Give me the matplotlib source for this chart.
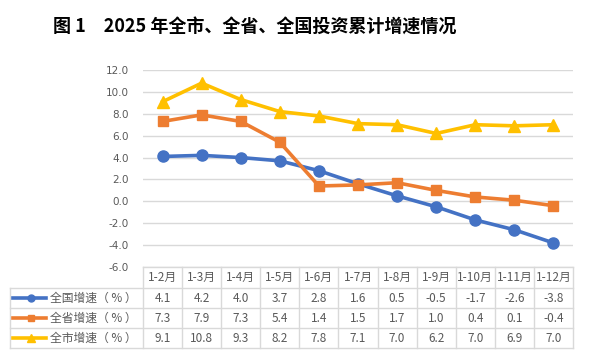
import matplotlib
matplotlib.use("Agg")
import matplotlib.pyplot as plt
import matplotlib.transforms as mtrans
from matplotlib.lines import Line2D

plt.rcParams['font.family'] = ['Noto Sans CJK SC', 'DejaVu Sans']

categories = ["1-2月", "1-3月", "1-4月", "1-5月", "1-6月", "1-7月", "1-8月",
              "1-9月", "1-10月", "1-11月", "1-12月"]
national = [4.1, 4.2, 4.0, 3.7, 2.8, 1.6, 0.5, -0.5, -1.7, -2.6, -3.8]
province = [7.3, 7.9, 7.3, 5.4, 1.4, 1.5, 1.7, 1.0, 0.4, 0.1, -0.4]
city = [9.1, 10.8, 9.3, 8.2, 7.8, 7.1, 7.0, 6.2, 7.0, 6.9, 7.0]
series_names = ["全国增速（ % ）", "全省增速（ % ）", "全市增速（ % ）"]
yticks = [-6.0, -4.0, -2.0, 0.0, 2.0, 4.0, 6.0, 8.0, 10.0, 12.0]

colors = ["#4472C4", "#ED7D31", "#FFC000"]
markers = ["o", "s", "^"]
msizes = [8, 7, 9]
leg_ms = [5, 5, 6]
txt_color = "#595959"
grid_color = "#D9D9D9"
tfs = 8.5

W, H = 589, 357
fig = plt.figure(figsize=(W / 100, H / 100), dpi=100)
left_px, right_px, top_px, bot_px = 143, 573, 70, 267
ax = fig.add_axes([left_px / W, 1 - bot_px / H, (right_px - left_px) / W, (bot_px - top_px) / H])

x = list(range(len(categories)))
data = [national, province, city]
for vals, c, m, ms in zip(data, colors, markers, msizes):
    ax.plot(x, vals, color=c, lw=2.6, marker=m, ms=ms, mec=c, mfc=c, zorder=3, clip_on=False)

ax.set_xlim(-0.5, len(categories) - 0.5)
ax.set_ylim(-6, 12)
ax.set_yticks(yticks)
ax.set_yticklabels([f"{v:.1f}" for v in yticks], color=txt_color, fontsize=7.5,
                   family=['DejaVu Sans'])
ax.tick_params(axis='y', length=0, pad=10)
ax.set_xticks([])
for s in ax.spines.values():
    s.set_visible(False)
ax.grid(axis='y', color=grid_color, lw=1)
ax.set_axisbelow(True)

# table below axes
trans = mtrans.blended_transform_factory(ax.transData, fig.transFigure)
figt = fig.transFigure
row_px = [267, 288, 308, 328, 348]
def fy(p):
    return 1 - p / H
table_left = 10 / W
lc = dict(color=grid_color, lw=1, clip_on=False)
for i, p in enumerate(row_px):
    if i == 0:
        fig.add_artist(Line2D([-0.5, len(categories) - 0.5], [fy(p), fy(p)], transform=trans, **lc))
    else:
        fig.add_artist(Line2D([table_left, right_px / W], [fy(p), fy(p)], transform=figt, **lc))
for k in range(len(categories) + 1):
    xv = k - 0.5
    fig.add_artist(Line2D([xv, xv], [fy(row_px[0]), fy(row_px[-1])], transform=trans, **lc))
fig.add_artist(Line2D([table_left, table_left], [fy(row_px[1]), fy(row_px[-1])], transform=figt, **lc))

for k, cat in enumerate(categories):
    fig.text(k, fy((row_px[0] + row_px[1]) / 2), cat, transform=trans, ha='center', va='center',
             fontsize=tfs, color=txt_color)
for r, (vals, name, c, m, ms) in enumerate(zip(data, series_names, colors, markers, leg_ms)):
    yc = fy((row_px[r + 1] + row_px[r + 2]) / 2)
    for k, v in enumerate(vals):
        fig.text(k, yc, f"{v:.1f}", transform=trans, ha='center', va='center',
                 fontsize=tfs, color=txt_color)
    fig.add_artist(Line2D([13 / W, 46 / W], [yc, yc], transform=figt, color=c, lw=2.6))
    fig.add_artist(Line2D([30.5 / W], [yc], transform=figt, color=c, marker=m, ms=ms,
                          mec=c, mfc=c, lw=0))
    fig.text(50 / W, yc, name, transform=figt, ha='left', va='center', fontsize=tfs, color=txt_color)

fig.text(255 / W, 1 - 27 / H, "图 1　2025 年全市、全省、全国投资累计增速情况", ha='center', va='center',
         fontsize=13, fontweight='bold', color='black')

fig.savefig("out.png", dpi=100)
